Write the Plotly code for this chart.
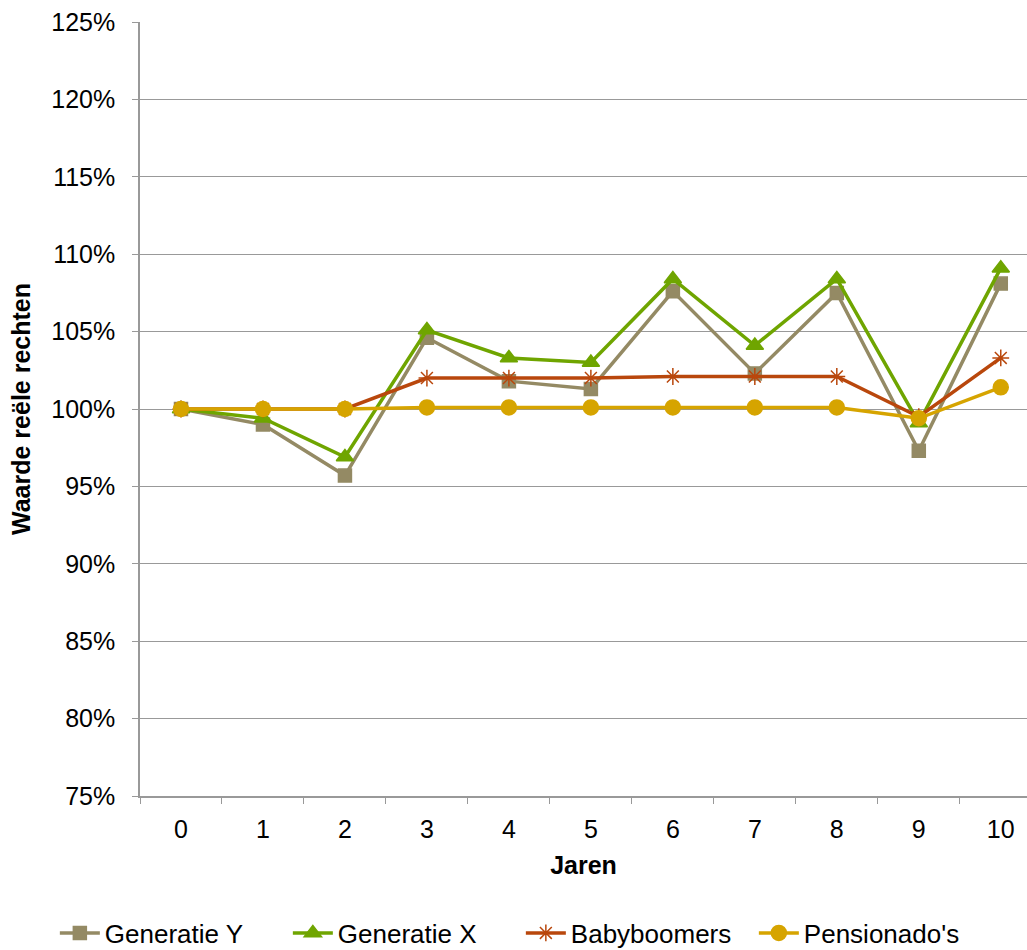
import plotly.graph_objects as go

jaren = ["0", "1", "2", "3", "4", "5", "6", "7", "8", "9", "10"]

generatie_y = [100.0, 99.0, 95.7, 104.6, 101.8, 101.3, 107.6, 102.3, 107.5, 97.3, 108.1]
generatie_x = [100.0, 99.4, 96.9, 105.1, 103.3, 103.0, 108.4, 104.1, 108.4, 99.1, 109.1]
babyboomers = [100.0, 100.0, 100.0, 102.0, 102.0, 102.0, 102.1, 102.1, 102.1, 99.5, 103.3]
pensionados = [100.0, 100.0, 100.0, 100.1, 100.1, 100.1, 100.1, 100.1, 100.1, 99.4, 101.4]

series = [
    ("Generatie Y", generatie_y, "#948A64", "square", 13),
    ("Generatie X", generatie_x, "#6FA500", "triangle-up", 15),
    ("Babyboomers", babyboomers, "#B9470C", "asterisk-open", 14),
    ("Pensionado's", pensionados, "#D6A400", "circle", 15),
]

FONT = "Liberation Sans, Arial, sans-serif"

fig = go.Figure()
for name, vals, color, symbol, size in series:
    fig.add_trace(go.Scatter(
        x=jaren, y=vals, name=name, mode="lines+markers",
        line=dict(color=color, width=3.5),
        marker=dict(symbol=symbol, size=size, color=color,
                    line=dict(color=color, width=1.5)),
    ))

fig.update_layout(
    width=1027, height=950,
    margin=dict(l=140, r=0, t=22, b=154, autoexpand=False),
    plot_bgcolor="white", paper_bgcolor="white",
    font=dict(family=FONT, size=26, color="black"),
    showlegend=True,
    legend=dict(orientation="h", x=-0.096, xanchor="left",
                y=-0.177, yanchor="middle",
                font=dict(family=FONT, size=26, color="black"),
                itemwidth=40, entrywidth=178, entrywidthmode="pixels",
                tracegroupgap=0),
    xaxis=dict(
        type="category", range=[-0.5, 10.32],
        showgrid=False, showline=True, linecolor="#999999", linewidth=1.5,
        ticks="outside", tickson="boundaries", ticklen=6, tickcolor="#999999",
        ticklabelstandoff=10,
        tickfont=dict(size=25),
        title=dict(text="<b>Jaren</b>", font=dict(size=25), standoff=15),
    ),
    yaxis=dict(
        range=[75, 125], dtick=5, ticksuffix="%",
        showgrid=True, gridcolor="#999999", gridwidth=1.3,
        showline=True, linecolor="#999999", linewidth=1.5,
        ticks="outside", ticklen=6, tickcolor="#999999",
        ticklabelstandoff=12,
        tickfont=dict(size=25),
        zeroline=False,
        title=dict(text="<b>Waarde reële rechten</b>", font=dict(size=25), standoff=14),
    ),
)

fig.write_html("out.html")
